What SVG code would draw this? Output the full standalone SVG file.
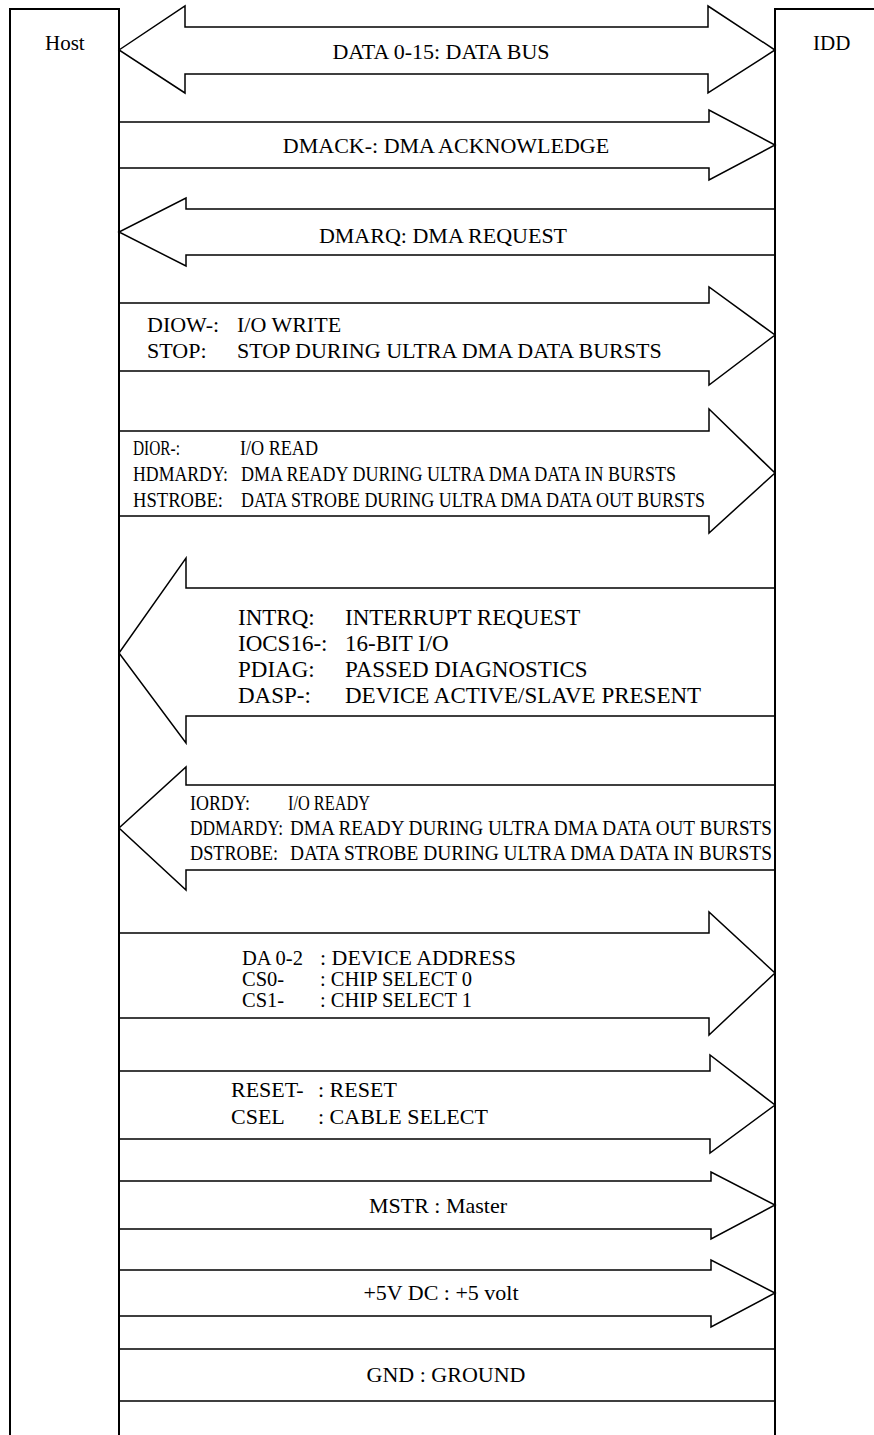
<svg xmlns="http://www.w3.org/2000/svg" width="874" height="1435" viewBox="0 0 874 1435" font-family="'Liberation Serif', Tinos, 'Times New Roman', 'DejaVu Serif', serif">
<style>
.box{fill:none;stroke:#000;stroke-width:2}
.arr{fill:none;stroke:#000;stroke-width:1.5;stroke-linejoin:miter}
text{font-family:'Liberation Serif', Tinos, 'Times New Roman', 'DejaVu Serif', serif;font-size:22px;fill:#000}
.c{text-anchor:middle}
.h{font-size:21px}
.b{font-size:23px}
.s{font-size:20.5px}
.k{font-size:21px}
</style>
<rect width="874" height="1435" fill="#fff"/>
<g id="host">
<path class="box" d="M10,1435 V9 H119 V1435"/>
<text class="h" x="45" y="50">Host</text>
</g>
<g id="idd">
<path class="box" d="M775,1435 V9 H874"/>
<text class="h" x="813" y="50">IDD</text>
</g>
<g id="connectors">
<g id="data">
<path class="arr" d="M119,50 L185,6 V27 H708 V6 L775,50 L708,93 V74 H185 V93 Z"/>
<text class="c" x="441" y="59">DATA 0-15: DATA BUS</text>
</g>
<g id="dmack">
<path class="arr" d="M119,122 H709 V110 L775,145 L709,180 V168 H119"/>
<text class="c" x="446" y="153">DMACK-: DMA ACKNOWLEDGE</text>
</g>
<g id="dmarq">
<path class="arr" d="M775,209 H186 V198 L119,232 L186,266 V255 H775"/>
<text class="c" x="443" y="243">DMARQ: DMA REQUEST</text>
</g>
<g id="diow">
<path class="arr" d="M119,303 H709 V287 L775,335 L709,385 V371 H119"/>
<text x="147" y="332">DIOW-:</text><text x="237" y="332">I/O WRITE</text>
<text x="147" y="358">STOP:</text><text x="237" y="358">STOP DURING ULTRA DMA DATA BURSTS</text>
</g>
<g id="dior">
<path class="arr" d="M119,431 H709 V409 L775,473 L709,533 V516 H119"/>
<text class="k" x="133" y="455" textLength="47" lengthAdjust="spacingAndGlyphs">DIOR-:</text>
<text class="k" x="240" y="455" textLength="78" lengthAdjust="spacingAndGlyphs">I/O READ</text>
<text class="k" x="133" y="481" textLength="95" lengthAdjust="spacingAndGlyphs">HDMARDY:</text>
<text class="k" x="241" y="481" textLength="435" lengthAdjust="spacingAndGlyphs">DMA READY DURING ULTRA DMA DATA IN BURSTS</text>
<text class="k" x="133" y="507" textLength="90" lengthAdjust="spacingAndGlyphs">HSTROBE:</text>
<text class="k" x="241" y="507" textLength="464" lengthAdjust="spacingAndGlyphs">DATA STROBE DURING ULTRA DMA DATA OUT BURSTS</text>
</g>
<g id="intrq">
<path class="arr" d="M775,588 H186 V558 L119,653 L186,743 V716 H775"/>
<text class="b" x="238" y="625">INTRQ:</text><text class="b" x="345" y="625">INTERRUPT REQUEST</text>
<text class="b" x="238" y="651">IOCS16-:</text><text class="b" x="345" y="651">16-BIT I/O</text>
<text class="b" x="238" y="677">PDIAG:</text><text class="b" x="345" y="677">PASSED DIAGNOSTICS</text>
<text class="b" x="238" y="703">DASP-:</text><text class="b" x="345" y="703">DEVICE ACTIVE/SLAVE PRESENT</text>
</g>
<g id="iordy">
<path class="arr" d="M775,785 H186 V767 L119,828 L186,890 V870 H775"/>
<text class="k" x="190" y="810" textLength="60" lengthAdjust="spacingAndGlyphs">IORDY:</text>
<text class="k" x="288" y="810" textLength="82" lengthAdjust="spacingAndGlyphs">I/O READY</text>
<text class="k" x="190" y="835" textLength="93" lengthAdjust="spacingAndGlyphs">DDMARDY:</text>
<text class="k" x="290" y="835" textLength="482" lengthAdjust="spacingAndGlyphs">DMA READY DURING ULTRA DMA DATA OUT BURSTS</text>
<text class="k" x="190" y="860" textLength="88" lengthAdjust="spacingAndGlyphs">DSTROBE:</text>
<text class="k" x="290" y="860" textLength="482" lengthAdjust="spacingAndGlyphs">DATA STROBE DURING ULTRA DMA DATA IN BURSTS</text>
</g>
<g id="da">
<path class="arr" d="M119,933 H709 V912 L775,973 L709,1035 V1018 H119"/>
<text class="s" x="242" y="965">DA 0-2</text><text class="s" x="320" y="965" textLength="196" lengthAdjust="spacingAndGlyphs">: DEVICE ADDRESS</text>
<text class="s" x="242" y="986">CS0-</text><text class="s" x="320" y="986">: CHIP SELECT 0</text>
<text class="s" x="242" y="1007">CS1-</text><text class="s" x="320" y="1007">: CHIP SELECT 1</text>
</g>
<g id="reset">
<path class="arr" d="M119,1071 H710 V1055 L775,1105 L710,1153 V1139 H119"/>
<text x="231" y="1097">RESET-</text><text x="318" y="1097">: RESET</text>
<text x="231" y="1124">CSEL</text><text x="318" y="1124">: CABLE SELECT</text>
</g>
<g id="mstr">
<path class="arr" d="M119,1181 H711 V1172 L775,1205 L711,1239 V1229 H119"/>
<text class="c" x="438" y="1213">MSTR : Master</text>
</g>
<g id="v5">
<path class="arr" d="M119,1270 H711 V1260 L775,1293 L711,1327 V1316 H119"/>
<text class="c" x="441" y="1300">+5V DC : +5 volt</text>
</g>
<g id="gnd">
<path class="arr" d="M119,1349 H775 M119,1401 H775"/>
<text class="c" x="446" y="1382">GND : GROUND</text>
</g>
</g>
</svg>
